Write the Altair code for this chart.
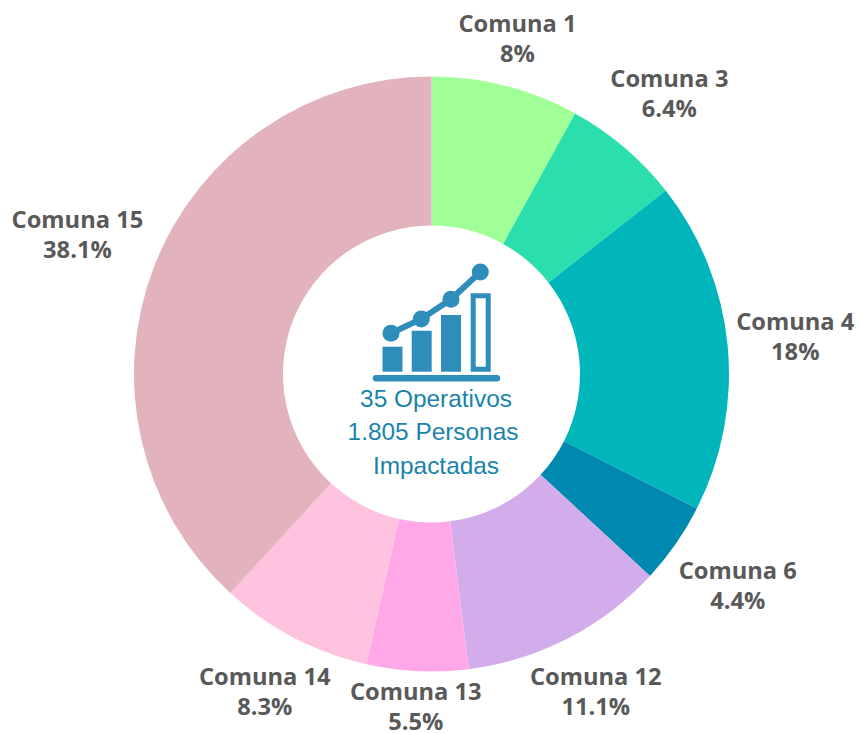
import altair as alt
import pandas as pd

comunas = ["Comuna 1", "Comuna 3", "Comuna 4", "Comuna 6", "Comuna 12", "Comuna 13", "Comuna 14", "Comuna 15"]
percent = [8, 6.4, 18, 4.4, 11.1, 5.5, 8.3, 38.1]
colors = ["#a0ff96", "#2bdfac", "#00b6ba", "#0089b0", "#d3aceb", "#ffa8e8", "#ffc2df", "#e2b3bc"]

# distance of each label from the centre of the ring
label_radius = [345, 367, 365.5, 373, 359, 334, 360, 380]

# centre icon: a rising chart (read in picture units)
bar_left = [382.5, 411.7, 441]
bar_right = [402.5, 431.7, 461]
bar_top = [346.7, 330.7, 315]
bar_bottom = [371.7, 371.7, 371.7]
outline_left = [473.2]
outline_right = [488.2]
outline_top = [295.8]
outline_bottom = [369.2]
trend_x = [391, 421.3, 451, 480.3]
trend_y = [333.3, 319, 299.3, 272]
base_x = [376, 497]
base_y = [378.3, 378.3]

center_lines = ["35 Operativos", "1.805 Personas", "Impactadas"]

W, H = 846, 725
CX, CY = 423.5, 366
ICON = "#2f8dbb"
TEXT = "#1a83ab"
GREY = "#595959"

table = pd.DataFrame({
    "comuna": comunas,
    "percent": percent,
    "order": list(range(len(comunas))),
    "r": label_radius,
    "label": [f"{c}\n{p:g}%" for c, p in zip(comunas, percent)],
})

arcs = alt.Chart(table).mark_arc(outerRadius=297.5, innerRadius=148.5, stroke=None).encode(
    theta=alt.Theta("percent:Q", stack=True),
    order=alt.Order("order:Q"),
    x=alt.value(CX),
    y=alt.value(CY),
    color=alt.Color("comuna:N", scale=alt.Scale(domain=comunas, range=colors), legend=None),
)

labels = alt.Chart(table).transform_window(
    cum="sum(percent)", sort=[alt.SortField("order", order="ascending")]
).transform_calculate(
    mid="datum.cum - datum.percent / 2"
).mark_text(
    font="Open Sans", fontWeight="bold", fontSize=23.7, color=GREY,
    lineBreak="\n", lineHeight=30, align="center", baseline="middle", dy=-15,
).encode(
    theta=alt.Theta("mid:Q", stack=False),
    radius=alt.Radius("r:Q", scale=None),
    x=alt.value(CX),
    y=alt.value(CY),
    text="label:N",
)

xs = alt.Scale(domain=[8, 8 + W], range=[0, W])
ys = alt.Scale(domain=[8, 8 + H], range=[0, H])
X = lambda f: alt.X(f, scale=xs, axis=None)
Y = lambda f: alt.Y(f, scale=ys, axis=None)

bars_df = pd.DataFrame({"l": bar_left, "r": bar_right, "t": bar_top, "b": bar_bottom})
bars = alt.Chart(bars_df).mark_rect(color=ICON).encode(
    x=X("l:Q"), x2="r:Q", y=Y("t:Q"), y2="b:Q",
)
outline_df = pd.DataFrame({"l": outline_left, "r": outline_right, "t": outline_top, "b": outline_bottom})
outline = alt.Chart(outline_df).mark_rect(fill="#ffffff", stroke=ICON, strokeWidth=5).encode(
    x=X("l:Q"), x2="r:Q", y=Y("t:Q"), y2="b:Q",
)
trend_df = pd.DataFrame({"x": trend_x, "y": trend_y})
trend = alt.Chart(trend_df).mark_line(color=ICON, strokeWidth=6).encode(
    x=X("x:Q"), y=Y("y:Q"), order="x:Q")
dots = alt.Chart(trend_df).mark_point(filled=True, color=ICON, opacity=1, size=290).encode(
    x=X("x:Q"), y=Y("y:Q"))
base_df = pd.DataFrame({"x": base_x, "y": base_y})
base = alt.Chart(base_df).mark_line(color=ICON, strokeWidth=6.5, strokeCap="round").encode(
    x=X("x:Q"), y=Y("y:Q"))

line_layers = []
for txt, px, py in zip(center_lines, [428, 425, 428], [391.5, 424.5, 458.5]):
    line_layers.append(
        alt.Chart(pd.DataFrame({"t": [txt]})).mark_text(
            font="Liberation Sans", fontSize=24.4, color=TEXT, align="center", baseline="middle",
        ).encode(text="t:N", x=alt.value(px), y=alt.value(py))
    )

chart = alt.layer(
    arcs, labels, bars, outline, trend, dots, base, *line_layers
).properties(
    width=W, height=H, padding=0, autosize=alt.AutoSizeParams(type="none"), background="#ffffff",
).configure_view(stroke=None)

chart.save("out.html", embed_options={"renderer": "svg", "actions": False})
